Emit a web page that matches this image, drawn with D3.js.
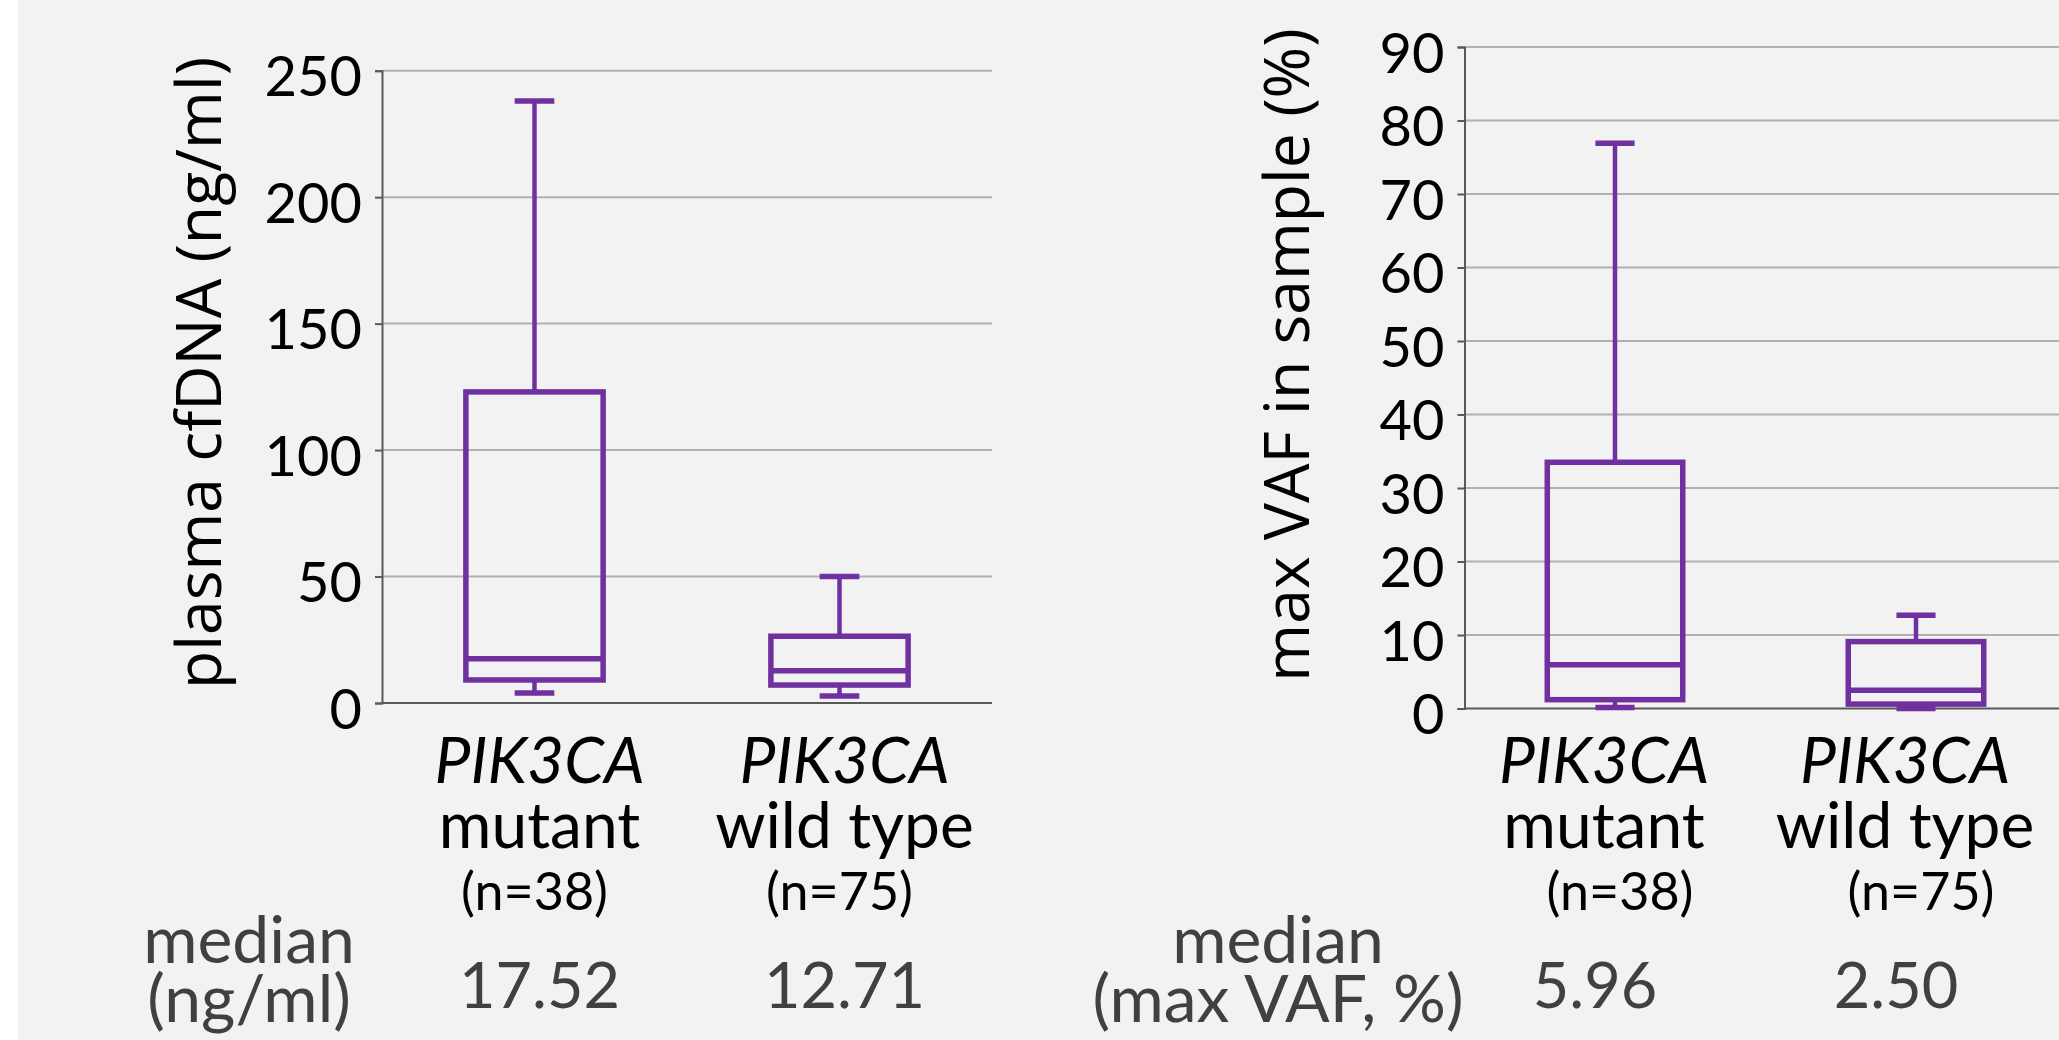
<!DOCTYPE html>
<html>
<head>
<meta charset="utf-8">
<script src="https://cdn.jsdelivr.net/npm/d3@7"></script>
<style>
  html, body { margin: 0; padding: 0; background: #fff; }
  svg { display: block; }
</style>
</head>
<body>
<div id="chart"></div>
<script>
// groups shown in both panels
const groupGene = "PIK3CA";
const groupNames = ["mutant", "wild type"];
const groupN = [38, 75];

// plasma cfDNA (ng/ml) box statistics
const cfdnaMin = [4.0, 2.8];
const cfdnaQ1 = [9.1, 7.1];
const cfdnaMedian = [17.52, 12.71];
const cfdnaQ3 = [123, 26.4];
const cfdnaMax = [238, 50];
const cfdnaTicks = [0, 50, 100, 150, 200, 250];

// max VAF in sample (%) box statistics
const vafMin = [0.15, 0];
const vafQ1 = [1.2, 0.6];
const vafMedian = [5.96, 2.50];
const vafQ3 = [33.5, 9.1];
const vafMax = [76.9, 12.7];
const vafTicks = [0, 10, 20, 30, 40, 50, 60, 70, 80, 90];

const width = 2059;
const height = 1040;
const purple = "#7030a0";

const svg = d3.select("#chart").append("svg")
    .attr("width", width)
    .attr("height", height);

svg.append("rect")
    .attr("x", 18).attr("y", 0)
    .attr("width", width - 18).attr("height", height)
    .attr("fill", "#f2f2f2");

const panels = [
    {
        min: cfdnaMin, q1: cfdnaQ1, med: cfdnaMedian, q3: cfdnaQ3, max: cfdnaMax, ticks: cfdnaTicks,
        xRange: [382, 992], yRange: [703, 70.7], gridEnd: 992,
        title: "plasma cfDNA (ng/ml)", titleX: 221, titleY: 373,
        medianLabel: ["median", "(ng/ml)"], medianX: 249,
        labelShift: 5, nShift: 0, valueShift: 5
    },
    {
        min: vafMin, q1: vafQ1, med: vafMedian, q3: vafQ3, max: vafMax, ticks: vafTicks,
        xRange: [1464.5, 2066.5], yRange: [708.5, 47], gridEnd: width,
        title: "max VAF in sample (%)", titleX: 1309, titleY: 355,
        medianLabel: ["median", "(max VAF, %)"], medianX: 1278,
        labelShift: -11, nShift: 5, valueShift: -20
    }
];

panels.forEach(p => {
    const x = d3.scaleBand().domain(groupNames).range(p.xRange);
    const y = d3.scaleLinear()
        .domain([0, p.ticks[p.ticks.length - 1]])
        .range(p.yRange);
    const x0 = p.xRange[0];
    const g = svg.append("g");

    // gridlines
    g.selectAll(".grid").data(p.ticks.filter(t => t > 0)).enter().append("line")
        .attr("x1", x0).attr("x2", p.gridEnd)
        .attr("y1", d => y(d)).attr("y2", d => y(d))
        .attr("stroke", "#b0b0b0").attr("stroke-width", 2);

    // x axis baseline
    g.append("line")
        .attr("x1", x0).attr("x2", p.gridEnd)
        .attr("y1", y(0)).attr("y2", y(0))
        .attr("stroke", "#595959").attr("stroke-width", 2);

    // y axis
    const yAxis = g.append("g")
        .attr("transform", `translate(${x0},0)`)
        .call(d3.axisLeft(y).tickValues(p.ticks).tickSize(7).tickPadding(13));
    yAxis.select(".domain").attr("stroke", "#595959").attr("stroke-width", 2);
    yAxis.selectAll(".tick line").attr("stroke", "#595959").attr("stroke-width", 2);
    yAxis.selectAll(".tick text")
        .attr("dy", "0.45em")
        .attr("fill", "#000")
        .style("font-family", "Lato, sans-serif")
        .style("font-size", "56px");

    // y title
    svg.append("text")
        .attr("transform", `translate(${p.titleX},${p.titleY}) rotate(-90)`)
        .attr("text-anchor", "middle")
        .style("font-family", "'Open Sans', sans-serif")
        .style("font-size", "62.5px")
        .attr("fill", "#000")
        .text(p.title);

    // boxes
    const bw = x.bandwidth() * 0.45;
    const cw = x.bandwidth() * 0.13;
    const boxes = g.selectAll(".box").data(groupNames).enter().append("g")
        .attr("transform", d => `translate(${x(d) + x.bandwidth() / 2},0)`);

    boxes.append("line") // upper whisker
        .attr("x1", 0).attr("x2", 0)
        .attr("y1", (d, i) => y(p.q3[i])).attr("y2", (d, i) => y(p.max[i]))
        .attr("stroke", purple).attr("stroke-width", 4.5);
    boxes.append("line") // lower whisker
        .attr("x1", 0).attr("x2", 0)
        .attr("y1", (d, i) => y(p.q1[i])).attr("y2", (d, i) => y(p.min[i]))
        .attr("stroke", purple).attr("stroke-width", 4.5);
    boxes.append("line") // top cap
        .attr("x1", -cw / 2).attr("x2", cw / 2)
        .attr("y1", (d, i) => y(p.max[i])).attr("y2", (d, i) => y(p.max[i]))
        .attr("stroke", purple).attr("stroke-width", 5.5);
    boxes.append("line") // bottom cap
        .attr("x1", -cw / 2).attr("x2", cw / 2)
        .attr("y1", (d, i) => y(p.min[i])).attr("y2", (d, i) => y(p.min[i]))
        .attr("stroke", purple).attr("stroke-width", 5.5);
    boxes.append("rect")
        .attr("x", -bw / 2).attr("width", bw)
        .attr("y", (d, i) => y(p.q3[i]))
        .attr("height", (d, i) => y(p.q1[i]) - y(p.q3[i]))
        .attr("fill", "none")
        .attr("stroke", purple).attr("stroke-width", 5.5);
    boxes.append("line") // median
        .attr("x1", -bw / 2).attr("x2", bw / 2)
        .attr("y1", (d, i) => y(p.med[i])).attr("y2", (d, i) => y(p.med[i]))
        .attr("stroke", purple).attr("stroke-width", 5.5);

    // category labels
    const labels = g.selectAll(".cat").data(groupNames).enter().append("g")
        .attr("transform", d => `translate(${x(d) + x.bandwidth() / 2},0)`)
        .style("font-family", "Lato, sans-serif")
        .attr("text-anchor", "middle")
        .attr("fill", "#000");
    labels.append("text")
        .attr("x", p.labelShift).attr("y", 783)
        .style("font-size", "64px").style("font-style", "italic")
        .text(groupGene);
    labels.append("text")
        .attr("x", p.labelShift).attr("y", 848)
        .style("font-size", "64px")
        .text(d => d);
    labels.append("text")
        .attr("x", p.nShift).attr("y", 910)
        .style("font-size", "52px")
        .text((d, i) => `(n=${groupN[i]})`);
    labels.append("text")
        .attr("x", p.valueShift).attr("y", 1008)
        .style("font-size", "63px")
        .attr("fill", "#404040")
        .text((d, i) => p.med[i].toFixed(2));

    // median row label
    const ml = svg.append("text")
        .attr("text-anchor", "middle")
        .style("font-family", "Lato, sans-serif")
        .style("font-size", "66px")
        .attr("fill", "#404040");
    ml.append("tspan").attr("x", p.medianX).attr("y", 963).text(p.medianLabel[0]);
    ml.append("tspan").attr("x", p.medianX).attr("y", 1022).text(p.medianLabel[1]);
});
</script>
</body>
</html>
